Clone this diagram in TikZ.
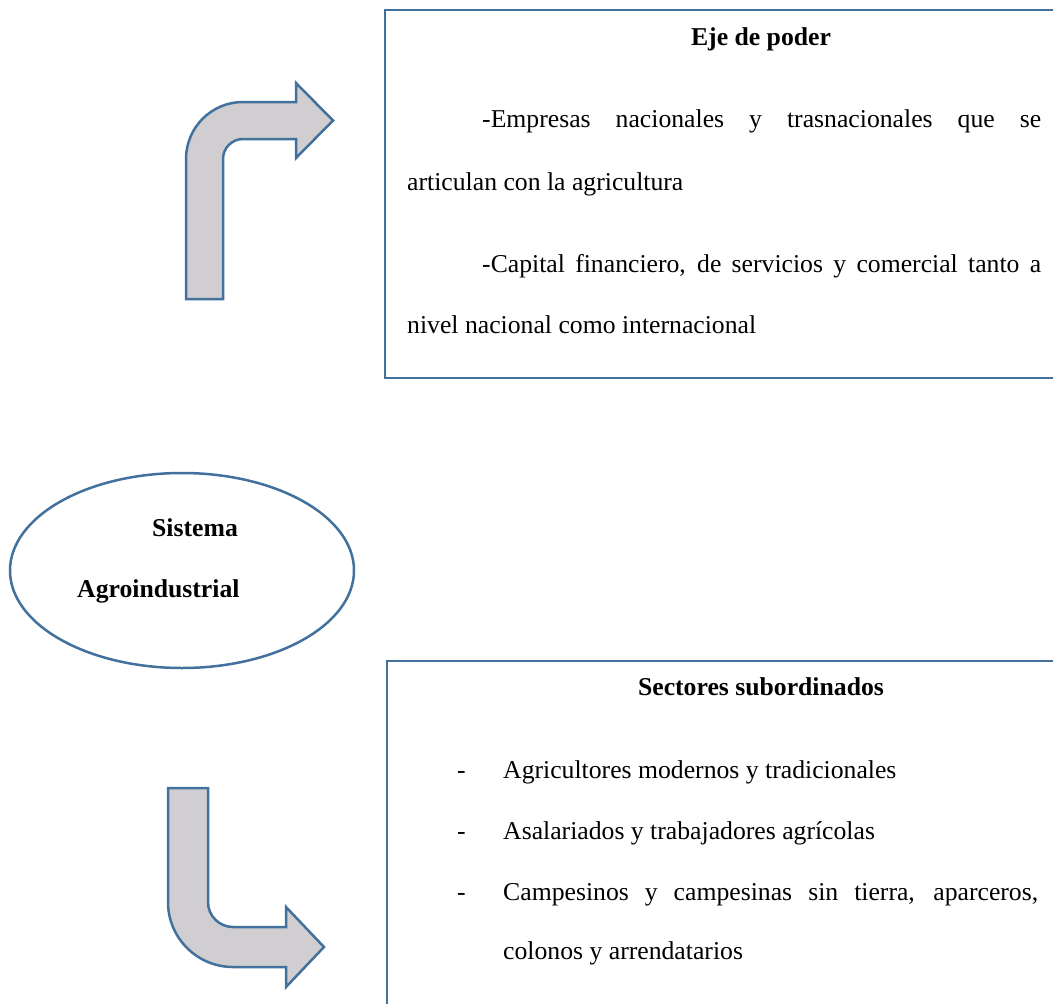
\documentclass[tikz,border=0pt]{standalone}
\usepackage{fontspec}
\setmainfont{Liberation Serif}
\definecolor{edge}{RGB}{65,113,156}
\definecolor{arrowfill}{RGB}{208,206,208}
\begin{document}
\begin{tikzpicture}[x=1pt,y=-1pt,
  shape outline/.style={draw=edge,line width=2.5pt,line join=miter},
  txt/.style={inner sep=0pt,anchor=base west,font=\fontsize{25.7}{30}\selectfont},
  head/.style={inner sep=0pt,anchor=base,font=\fontsize{25.7}{30}\selectfont\bfseries}]
\useasboundingbox (0,0) rectangle (1053,1004);
\clip (0,0) rectangle (1053,1004);
\fill[white] (0,0) rectangle (1053,1004);

% top box
\draw[shape outline] (1070,10) -- (385,10) -- (385,378) -- (1070,378);
\node[head] (t0) at (761,45) {Eje de poder};
\node[txt] (t1) at (482,127) {\makebox[559pt][s]{-Empresas nacionales y trasnacionales que se}};
\node[txt] (t2) at (407,190) {articulan con la agricultura};
\node[txt] (t3) at (482,272) {\makebox[559pt][s]{-Capital financiero, de servicios y comercial tanto a}};
\node[txt] (t4) at (407,333) {nivel nacional como internacional};

% bottom box
\draw[shape outline] (1070,661) -- (387,661) -- (387,1020);
\node[head] (b0) at (761,695) {Sectores subordinados};
\node[txt] (d1) at (457,778) {-};
\node[txt] (b1) at (503,778) {Agricultores modernos y tradicionales};
\node[txt] (d2) at (457,839) {-};
\node[txt] (b2) at (503,839) {Asalariados y trabajadores agrícolas};
\node[txt] (d3) at (457,900) {-};
\node[txt] (b3) at (503,900) {\makebox[535pt][s]{Campesinos y campesinas sin tierra, aparceros,}};
\node[txt] (b4) at (503,959) {colonos y arrendatarios};

% ellipse
\draw[shape outline] (182,570.5) ellipse[x radius=172,y radius=97.5];
\node[inner sep=0pt] (ell) at (182,570.5) {};
\node[head,anchor=base west] (e1) at (152,536) {Sistema};
\node[head,anchor=base west] (e2) at (77,597) {Agroindustrial};

% top bent arrow
\filldraw[shape outline,fill=arrowfill]
  (186,299) -- (186,159)
  .. controls (186,127.5) and (211.5,102) .. (243,102)
  -- (296,102) -- (296,83) -- (333,120.5) -- (296,158) -- (296,139) -- (243,139)
  .. controls (232,139) and (223,148) .. (223,159)
  -- (223,299) -- cycle;

% bottom bent arrow
\filldraw[shape outline,fill=arrowfill]
  (168,788) -- (208,788) -- (208,902)
  .. controls (208,915.8) and (219.2,927) .. (233,927)
  -- (286,927) -- (286,907) -- (324,947) -- (286,987) -- (286,967) -- (233,967)
  .. controls (197.1,967) and (168,937.9) .. (168,902)
  -- cycle;
\end{tikzpicture}
\end{document}
